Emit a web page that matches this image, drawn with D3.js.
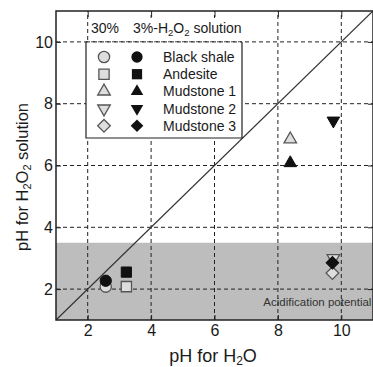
<!DOCTYPE html>
<html>
<head>
<meta charset="utf-8">
<script src="https://cdn.jsdelivr.net/npm/d3@7"></script>
<style>
  body { margin: 0; background: #fff; }
  svg { display: block; font-family: "Liberation Sans", Arial, sans-serif; }
</style>
</head>
<body>
<svg width="373" height="367"></svg>
<script>
// samples and their pH values: [pH for H2O, pH for 30% H2O2, pH for 3% H2O2]
const samples = ['Black shale', 'Andesite', 'Mudstone 1', 'Mudstone 2', 'Mudstone 3']
const phWater = [2.57, 3.22, 8.39, 9.75, 9.72]
const ph30 = [2.08, 2.08, 6.85, 3.0, 2.52]
const ph3 = [2.27, 2.55, 6.08, 7.45, 2.85]
const shapes = ['circle', 'square', 'triangle', 'down', 'diamond']
const xTicks = [2, 4, 6, 8, 10]
const yTicks = [2, 4, 6, 8, 10]
const acidLimit = 3.5

const svg = d3.select('svg')
const x = d3.scaleLinear().domain([1, 11]).range([56, 373])
const y = d3.scaleLinear().domain([1, 11]).range([320, 11])

function symbolPath(shape) {
  if (shape === 'circle') return d3.symbol(d3.symbolCircle, 100)()
  if (shape === 'square') return d3.symbol(d3.symbolSquare, 105)()
  if (shape === 'triangle') return d3.symbol(d3.symbolTriangle, 68)()
  if (shape === 'down') return d3.symbol(d3.symbolTriangle, 68)()
  return d3.symbol(d3.symbolSquare, 80)()
}
function symbolRotate(shape) {
  if (shape === 'down') return 180
  if (shape === 'diamond') return 45
  return 0
}

// acidification band
svg.append('rect')
  .attr('x', x(1)).attr('width', x(11) - x(1))
  .attr('y', y(acidLimit)).attr('height', y(1) - y(acidLimit))
  .attr('fill', '#bdbdbd')

// dashed grid
svg.append('g').selectAll('line').data(xTicks).join('line')
  .attr('x1', d => x(d)).attr('x2', d => x(d))
  .attr('y1', y(1)).attr('y2', y(11))
  .attr('stroke', '#222').attr('stroke-width', 1).attr('stroke-dasharray', '4,3')
svg.append('g').selectAll('line').data(yTicks).join('line')
  .attr('y1', d => y(d)).attr('y2', d => y(d))
  .attr('x1', x(1)).attr('x2', x(11))
  .attr('stroke', '#222').attr('stroke-width', 1).attr('stroke-dasharray', '4,3')

// 1:1 line
svg.append('line')
  .attr('x1', x(1)).attr('y1', y(1)).attr('x2', x(11)).attr('y2', y(11))
  .attr('stroke', '#333').attr('stroke-width', 1.2)

svg.append('text')
  .attr('x', x(10.95)).attr('y', y(1.45))
  .attr('text-anchor', 'end').attr('font-size', 11.5).attr('fill', '#333')
  .text('Acidification potential')

// axes with inward ticks
const axisStyle = g => {
  g.select('.domain').remove()
  g.selectAll('line').attr('stroke', '#222')
  g.selectAll('text').attr('font-size', 16).attr('fill', '#1a1a1a').attr('font-family', '"Liberation Sans", Arial, sans-serif')
}
svg.append('g').attr('transform', `translate(0,${y(1)})`)
  .call(d3.axisBottom(x).tickValues(xTicks).tickSize(-5).tickPadding(5))
  .call(axisStyle)
svg.append('g').attr('transform', `translate(0,${y(11)})`)
  .call(d3.axisTop(x).tickValues(xTicks).tickSize(-6).tickFormat(''))
  .call(axisStyle)
svg.append('g').attr('transform', `translate(${x(1)},0)`)
  .call(d3.axisLeft(y).tickValues(yTicks).tickSize(-5).tickPadding(3))
  .call(axisStyle)
svg.append('g').attr('transform', `translate(${x(11)},0)`)
  .call(d3.axisRight(y).tickValues(yTicks).tickSize(-5).tickFormat(''))
  .call(axisStyle)

// frame
svg.append('rect')
  .attr('x', x(1)).attr('y', y(11))
  .attr('width', x(11) - x(1)).attr('height', y(1) - y(11))
  .attr('fill', 'none').attr('stroke', '#222').attr('stroke-width', 1.5)

// points: open = 30%, filled = 3%
const pts = svg.append('g')
samples.forEach((s, i) => {
  pts.append('path')
    .attr('d', symbolPath(shapes[i]))
    .attr('transform', `translate(${x(phWater[i])},${y(ph30[i])}) rotate(${symbolRotate(shapes[i])})`)
    .attr('fill', '#dedede').attr('stroke', '#555').attr('stroke-width', 1.3)
})
samples.forEach((s, i) => {
  pts.append('path')
    .attr('d', symbolPath(shapes[i]))
    .attr('transform', `translate(${x(phWater[i])},${y(ph3[i])}) rotate(${symbolRotate(shapes[i])})`)
    .attr('fill', '#111').attr('stroke', '#111').attr('stroke-width', 1)
})

// legend header (white strip hides the grid behind it)
svg.append('rect')
  .attr('x', 90).attr('y', 18).attr('width', 160).attr('height', 23)
  .attr('fill', '#fff')
const header = svg.append('text').attr('y', 33).attr('font-size', 14).attr('fill', '#1a1a1a')
header.append('tspan').attr('x', 91).text('30%')
header.append('tspan').attr('x', 133).text('3%-H')
header.append('tspan').attr('font-size', 9.5).attr('dy', 3).text('2')
header.append('tspan').attr('dy', -3).text('O')
header.append('tspan').attr('font-size', 9.5).attr('dy', 3).text('2')
header.append('tspan').attr('dy', -3).text(' solution')

// legend box: solid sides and bottom, the top is the dashed grid line
const legend = svg.append('g')
legend.append('rect')
  .attr('x', 86).attr('y', 42.5).attr('width', 156).attr('height', 95.5)
  .attr('fill', '#fff')
legend.append('path')
  .attr('d', 'M86,42V138H242V42')
  .attr('fill', 'none').attr('stroke', '#222').attr('stroke-width', 1.2)
legend.append('line')
  .attr('x1', 86).attr('x2', 242).attr('y1', y(10)).attr('y2', y(10))
  .attr('stroke', '#222').attr('stroke-dasharray', '4,3')
samples.forEach((s, i) => {
  const ly = 57 + i * 17.2
  legend.append('path')
    .attr('d', symbolPath(shapes[i]))
    .attr('transform', `translate(104,${ly}) rotate(${symbolRotate(shapes[i])})`)
    .attr('fill', '#dedede').attr('stroke', '#555').attr('stroke-width', 1.3)
  legend.append('path')
    .attr('d', symbolPath(shapes[i]))
    .attr('transform', `translate(137,${ly}) rotate(${symbolRotate(shapes[i])})`)
    .attr('fill', '#111')
  legend.append('text')
    .attr('x', 163).attr('y', ly + 5)
    .attr('font-size', 14).attr('fill', '#1a1a1a')
    .text(s)
})

// axis titles
const xt = svg.append('text').attr('x', 213).attr('y', 362)
  .attr('text-anchor', 'middle').attr('font-size', 18).attr('fill', '#1a1a1a')
xt.append('tspan').text('pH for H')
xt.append('tspan').attr('font-size', 12).attr('dy', 3).text('2')
xt.append('tspan').attr('dy', -3).text('O')

const yt = svg.append('text')
  .attr('transform', 'translate(28,177) rotate(-90)')
  .attr('text-anchor', 'middle').attr('font-size', 16.5).attr('fill', '#1a1a1a')
yt.append('tspan').text('pH for H')
yt.append('tspan').attr('font-size', 11).attr('dy', 3).text('2')
yt.append('tspan').attr('dy', -3).text('O')
yt.append('tspan').attr('font-size', 11).attr('dy', 3).text('2')
yt.append('tspan').attr('dy', -3).text(' solution')
</script>
</body>
</html>
